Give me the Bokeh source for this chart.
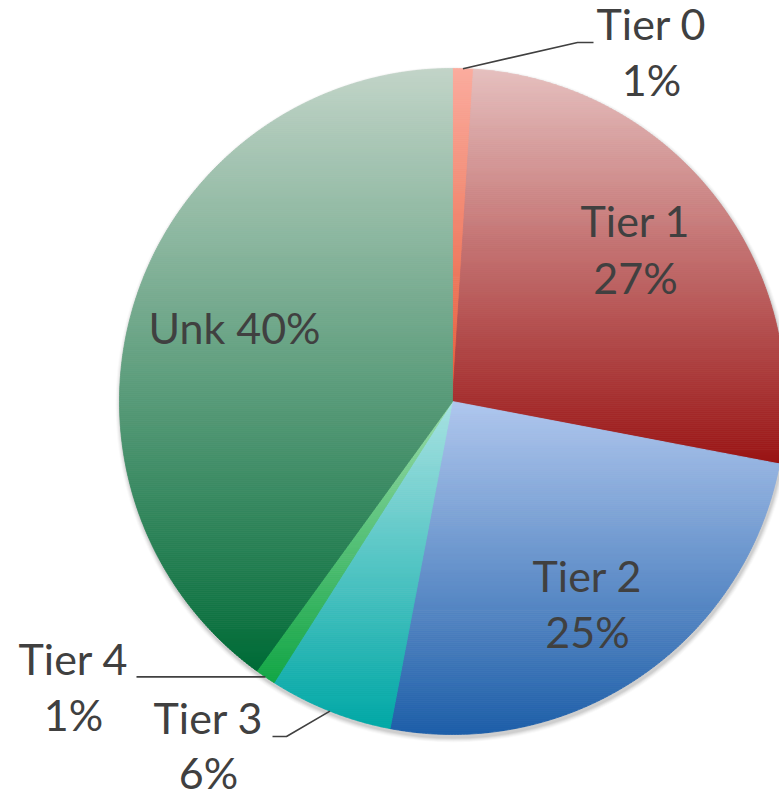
import math
from bokeh.plotting import figure
from bokeh.models import Range1d
from bokeh.core.properties import value
from bokeh.embed import file_html
from bokeh.resources import INLINE

# ---- data ----
names = ["Tier 0", "Tier 1", "Tier 2", "Tier 3", "Tier 4", "Unk"]
values = [1, 27, 25, 6, 1, 40]
pct_labels = ["1%", "27%", "25%", "6%", "1%", "40%"]
top_colors = ["#FBAC9E", "#E6C0BF", "#B0C7EE", "#A8E2E2", "#9ADBAA", "#C2D4C8"]
bottom_colors = ["#E65A38", "#9A1414", "#1E5FA9", "#00A8A6", "#12A645", "#006B37"]

# ---- layout (image pixel coordinates) ----
CX, CY, R = 452.0, 401.0, 333.0
FONT = value("Lato")
FS = "43px"
TXT = "#404040"
DY = -18  # baseline correction for text glyphs

W, H = 779, 797
p = figure(width=W, height=H, x_range=Range1d(0, W), y_range=Range1d(H, 0),
           output_backend="svg", toolbar_location=None, min_border=0)
p.axis.visible = False
p.grid.visible = False
p.outline_line_color = None
p.background_fill_color = "white"
p.border_fill_color = "white"

def hex2rgb(h):
    h = h.lstrip("#")
    return tuple(int(h[i:i + 2], 16) for i in (0, 2, 4))

def mix(c0, c1, t):
    a, b = hex2rgb(c0), hex2rgb(c1)
    return "#%02x%02x%02x" % tuple(int(round(a[i] + (b[i] - a[i]) * t)) for i in range(3))

def clip_half(poly, y0, keep_above):
    out = []
    n = len(poly)
    for i in range(n):
        P, Q = poly[i], poly[(i + 1) % n]
        inP = (P[1] >= y0) if keep_above else (P[1] <= y0)
        inQ = (Q[1] >= y0) if keep_above else (Q[1] <= y0)
        if inP:
            out.append(P)
        if inP != inQ:
            t = (y0 - P[1]) / (Q[1] - P[1])
            out.append((P[0] + t * (Q[0] - P[0]), y0))
    return out

def pt(theta_deg, r=R):
    th = math.radians(theta_deg)
    return (CX + r * math.sin(th), CY - r * math.cos(th))

# soft shadow
for i, a in enumerate([0.06, 0.05, 0.04, 0.03, 0.02]):
    p.circle(x=[CX + 1], y=[CY + 3], radius=R + 1 + i, fill_color="black",
             fill_alpha=a, line_color=None)

total = float(sum(values))
cum = 0.0
mids = []
for name, v, ct, cb in zip(names, values, top_colors, bottom_colors):
    a0 = cum / total * 360.0
    a1 = (cum + v) / total * 360.0
    cum += v
    mids.append((a0 + a1) / 2)
    n = max(4, int((a1 - a0) * 2))
    poly = [(CX, CY)] + [pt(a0 + (a1 - a0) * k / n) for k in range(n + 1)]
    ymin = min(q[1] for q in poly)
    ymax = max(q[1] for q in poly)
    nb = max(2, int((ymax - ymin) / 2))
    xs, ys, cols = [], [], []
    for b in range(nb):
        y0 = ymin + (ymax - ymin) * b / nb
        y1 = ymin + (ymax - ymin) * (b + 1) / nb
        c = clip_half(poly, y0, True)
        if len(c) < 3:
            continue
        c = clip_half(c, y1, False)
        if len(c) < 3:
            continue
        xs.append([q[0] for q in c])
        ys.append([q[1] for q in c])
        cols.append(mix(ct, cb, (b + 0.5) / nb))
    p.patches(xs=xs, ys=ys, fill_color=cols, line_color=cols, line_width=0.8)

# leader lines (from slice midpoints on the rim)
m0 = pt(mids[0]); m3 = pt(mids[3]); m4 = pt(mids[4])
p.line(x=[m0[0], 577, 593], y=[m0[1], 42, 42], line_color=TXT, line_width=1.6)
p.line(x=[m4[0], 136], y=[m4[1], m4[1]], line_color=TXT, line_width=1.6)
p.line(x=[m3[0], 286, 272], y=[m3[1], 736, 736], line_color=TXT, line_width=1.6)

# labels
lab_x = [651, 635, 587, 208, 73]
lab_y1 = [41 + DY, 238 + DY, 593 + DY, 735 + DY, 676 + DY]
lab_y2 = [97 + DY, 295 + DY, 649 + DY, 790 + DY, 732 + DY]
p.text(x=lab_x, y=lab_y1, text=names[:5], text_font=FONT, text_font_size=FS,
       text_color=TXT, text_align="center", text_baseline="alphabetic")
p.text(x=lab_x, y=lab_y2, text=pct_labels[:5], text_font=FONT, text_font_size=FS,
       text_color=TXT, text_align="center", text_baseline="alphabetic")
p.text(x=[234], y=[345 + DY], text=[names[5] + " " + pct_labels[5]], text_font=FONT,
       text_font_size=FS, text_color=TXT, text_align="center", text_baseline="alphabetic")

open("out.html", "w").write(file_html(p, INLINE))
